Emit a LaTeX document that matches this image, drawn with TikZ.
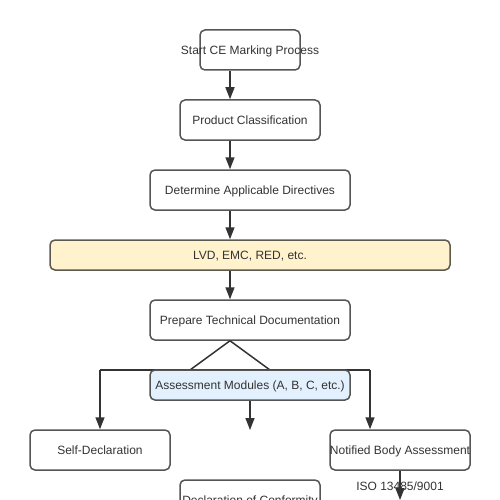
\documentclass[tikz,border=0pt]{standalone}
\usepackage{fontspec}
\setmainfont{Liberation Sans}
\usetikzlibrary{arrows.meta}
\definecolor{boxline}{HTML}{555555}
\definecolor{wiregray}{HTML}{333333}
\definecolor{labelgray}{HTML}{333333}
\definecolor{yellowfill}{HTML}{FFF2CC}
\definecolor{yellowline}{HTML}{5C5A50}
\definecolor{bluefill}{HTML}{E3F0FD}
\tikzset{
  stepbox/.style={draw=boxline, line width=1.5pt, rounded corners=5pt, fill=white,
    minimum height=40pt, inner sep=0pt, text height=10pt, text depth=1pt,
    text=labelgray, font=\fontsize{12}{14}\selectfont},
  wire/.style={draw=wiregray, line width=1.5pt},
  flow/.style={wire, -{Triangle[length=12pt,width=9pt]}},
}
\begin{document}
\begin{tikzpicture}[x=1pt, y=-1pt]
\useasboundingbox (0,0) rectangle (500,500);
% top of the chain
\node[stepbox, minimum width=100pt] (start) at (250,50) {\makebox[0pt]{Start CE Marking Process}};
\node[stepbox, minimum width=140pt] (classify) at (250,120) {Product Classification};
\node[stepbox, minimum width=200pt] (directives) at (250,190) {Determine Applicable Directives};
\node[stepbox, minimum width=400pt, minimum height=30pt, fill=yellowfill, draw=yellowline] (lvd) at (250,255) {LVD, EMC, RED, etc.};
\node[stepbox, minimum width=200pt] (techdoc) at (250,320) {Prepare Technical Documentation};
% arrows down the chain
\draw[flow] ([xshift=-20]start.south) -- ([xshift=-20]classify.north);
\draw[flow] ([xshift=-20]classify.south) -- ([xshift=-20]directives.north);
\draw[flow] ([xshift=-20]directives.south) -- ([xshift=-20]lvd.north);
\draw[flow] ([xshift=-20]lvd.south) -- ([xshift=-20]techdoc.north);
% fork and rail
\coordinate (forkL) at (190,370);
\coordinate (forkR) at (270,370);
\coordinate (railL) at (100,370);
\coordinate (railR) at (370,370);
\draw[wire] ([xshift=-20]techdoc.south) -- (forkL);
\draw[wire] ([xshift=-20]techdoc.south) -- (forkR);
\draw[wire] (railL) -- (railR);
% lower boxes
\node[stepbox, minimum width=200pt, minimum height=30pt, fill=bluefill] (modules) at (250,385) {Assessment Modules (A, B, C, etc.)};
\node[stepbox, minimum width=140pt] (selfdecl) at (100,450) {Self-Declaration};
\node[stepbox, minimum width=140pt] (notified) at (400,450) {\makebox[0pt]{Notified Body Assessment}};
\node[stepbox, minimum width=140pt] (conformity) at (250,500) {\makebox[0pt]{Declaration of Conformity}};
\coordinate (blank) at (250,430);
\coordinate (isoend) at (400,500);
% arrows into the lower row
\draw[flow] (railL) -- (selfdecl.north);
\draw[flow] (railR) -- (railR |- notified.north);
\draw[flow] (modules.south) -- (blank);
\draw[flow] (notified.south) -- (isoend);
\node[text=labelgray, font=\fontsize{12}{14}\selectfont] (iso) at (400,486) {ISO 13485/9001};
\end{tikzpicture}
\end{document}
